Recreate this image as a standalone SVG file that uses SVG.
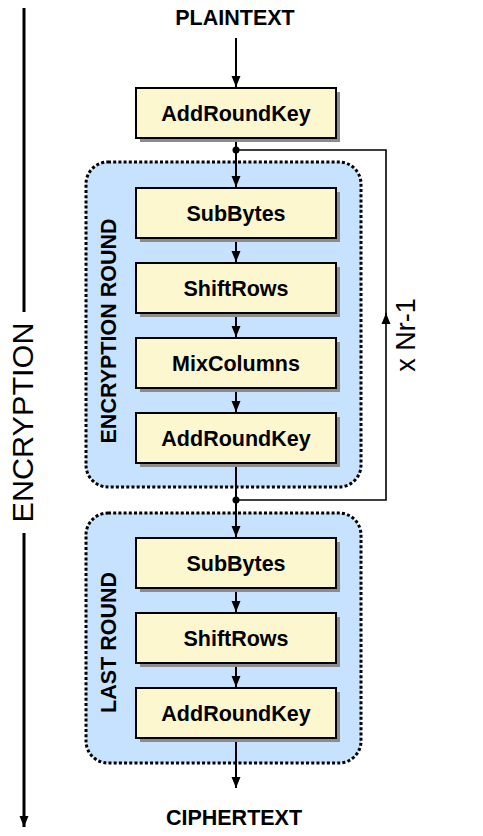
<svg xmlns="http://www.w3.org/2000/svg" width="483" height="836" viewBox="0 0 483 836">
<style>
.lbl{font-family:"Liberation Sans",Arial,sans-serif;font-weight:bold;font-size:21.5px;fill:#000;text-anchor:middle}
.grp{font-family:"Liberation Sans",Arial,sans-serif;font-weight:bold;font-size:21.5px;fill:#000;text-anchor:middle}
.reg{font-family:"Liberation Sans",Arial,sans-serif;font-size:27px;fill:#000;text-anchor:middle}
.box{fill:#fcf7cf;stroke:#000;stroke-width:2}
.shadow{fill:#8c8c8c}
.round{fill:#c6e2ff;stroke:#000;stroke-width:3;stroke-dasharray:3 2.2}
.conn{fill:none;stroke:#000;stroke-width:2}
.thin{fill:none;stroke:#000;stroke-width:1.6}
</style>
<defs>
<marker id="arr" markerUnits="userSpaceOnUse" markerWidth="12" markerHeight="12" viewBox="0 0 12 12" refX="11" refY="6" orient="auto">
<path d="M0,1.5 L11,6 L0,10.5 Z" fill="#000"/>
</marker>
</defs>
<rect width="483" height="836" fill="#fff"/>

<g id="encryption-round-group">
<rect class="round" x="86" y="162" width="275" height="325" rx="22" ry="22"/>
<text class="grp" transform="translate(116,331) rotate(-90)">ENCRYPTION ROUND</text>
</g>
<g id="last-round-group">
<rect class="round" x="86" y="513" width="275" height="250" rx="22" ry="22"/>
<text class="grp" transform="translate(116,642.5) rotate(-90)">LAST ROUND</text>
</g>

<g id="connectors">
<path class="conn" d="M236,38 V87" marker-end="url(#arr)"/>
<path class="conn" d="M236,138 V187" marker-end="url(#arr)"/>
<path class="conn" d="M236,238 V262" marker-end="url(#arr)"/>
<path class="conn" d="M236,313 V337" marker-end="url(#arr)"/>
<path class="conn" d="M236,388 V412" marker-end="url(#arr)"/>
<path class="conn" d="M236,463 V537" marker-end="url(#arr)"/>
<path class="conn" d="M236,588 V612" marker-end="url(#arr)"/>
<path class="conn" d="M236,663 V687" marker-end="url(#arr)"/>
<path class="conn" d="M236,738 V788" marker-end="url(#arr)"/>
<path class="thin" d="M236,500 H386 V313" marker-end="url(#arr)"/>
<path class="thin" d="M386,318 V150 H236"/>
<circle cx="236" cy="150" r="3.5" fill="#000"/>
<circle cx="236" cy="500" r="3.5" fill="#000"/>
<path d="M24,8 V312" stroke="#000" stroke-width="3" fill="none"/>
<path d="M24,533 V827" stroke="#000" stroke-width="3" fill="none" marker-end="url(#arr)"/>
</g>

<g id="plaintext"><text class="lbl" x="235" y="25">PLAINTEXT</text></g>
<g id="ciphertext"><text class="lbl" x="234" y="825">CIPHERTEXT</text></g>

<g id="addroundkey-0">
<rect class="shadow" x="140" y="92" width="200" height="50"/>
<rect class="box" x="136" y="88" width="200" height="50"/>
<text class="lbl" x="236" y="121">AddRoundKey</text>
</g>
<g id="subbytes-1">
<rect class="shadow" x="140" y="192" width="200" height="50"/>
<rect class="box" x="136" y="188" width="200" height="50"/>
<text class="lbl" x="236" y="221">SubBytes</text>
</g>
<g id="shiftrows-1">
<rect class="shadow" x="140" y="267" width="200" height="50"/>
<rect class="box" x="136" y="263" width="200" height="50"/>
<text class="lbl" x="236" y="296">ShiftRows</text>
</g>
<g id="mixcolumns-1">
<rect class="shadow" x="140" y="342" width="200" height="50"/>
<rect class="box" x="136" y="338" width="200" height="50"/>
<text class="lbl" x="236" y="371">MixColumns</text>
</g>
<g id="addroundkey-1">
<rect class="shadow" x="140" y="417" width="200" height="50"/>
<rect class="box" x="136" y="413" width="200" height="50"/>
<text class="lbl" x="236" y="446">AddRoundKey</text>
</g>
<g id="subbytes-2">
<rect class="shadow" x="140" y="542" width="200" height="50"/>
<rect class="box" x="136" y="538" width="200" height="50"/>
<text class="lbl" x="236" y="571">SubBytes</text>
</g>
<g id="shiftrows-2">
<rect class="shadow" x="140" y="617" width="200" height="50"/>
<rect class="box" x="136" y="613" width="200" height="50"/>
<text class="lbl" x="236" y="646">ShiftRows</text>
</g>
<g id="addroundkey-2">
<rect class="shadow" x="140" y="692" width="200" height="50"/>
<rect class="box" x="136" y="688" width="200" height="50"/>
<text class="lbl" x="236" y="721">AddRoundKey</text>
</g>

<g id="loop-label"><text class="reg" transform="translate(415,335) rotate(-90)">x Nr-1</text></g>
<g id="encryption-label"><text class="reg" style="font-size:30px" textLength="200" lengthAdjust="spacingAndGlyphs" transform="translate(33,422.5) rotate(-90)">ENCRYPTION</text></g>
</svg>
